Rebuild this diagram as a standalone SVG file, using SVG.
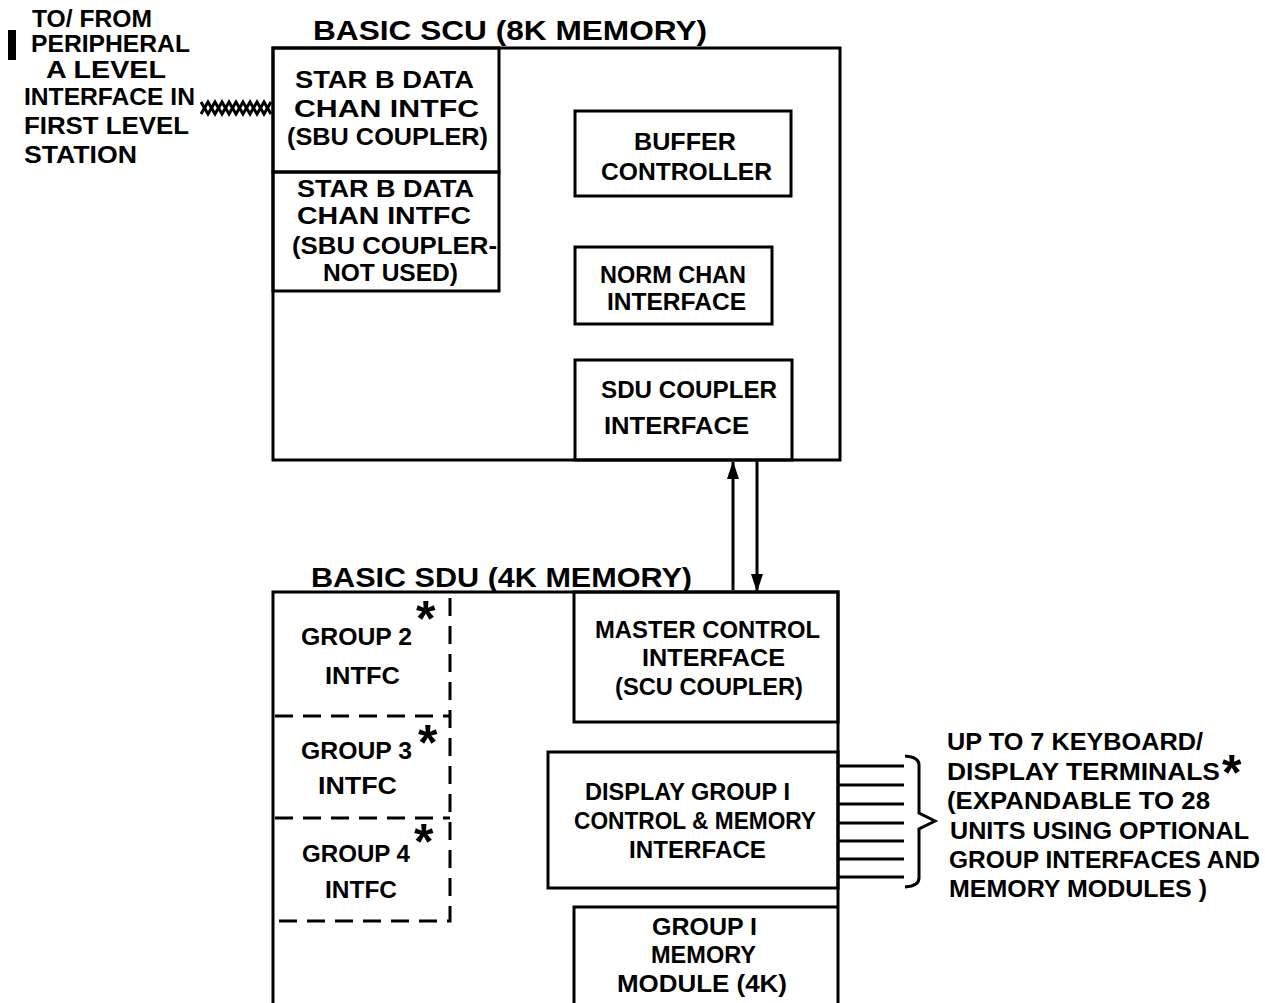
<svg xmlns="http://www.w3.org/2000/svg" width="1265" height="1003" viewBox="0 0 1265 1003">
<defs>
<style>
.t{font-family:"Liberation Sans",Arial,sans-serif;font-size:23px;font-weight:bold;fill:#000}
.h{font-family:"Liberation Sans",Arial,sans-serif;font-size:28px;font-weight:bold;fill:#000}
.ast{font-family:"Liberation Sans",Arial,sans-serif;font-size:50px;font-weight:bold;fill:#000}
.box{fill:none;stroke:#000;stroke-width:3}
.dash{fill:none;stroke:#000;stroke-width:3;stroke-dasharray:18 10}
.ln{fill:none;stroke:#000;stroke-width:3}
</style>
<marker id="arr" viewBox="0 0 18 12" refX="17" refY="6" markerWidth="18" markerHeight="12" markerUnits="userSpaceOnUse" orient="auto">
<path d="M0,0 L18,6 L0,12 Z" fill="#000"/>
</marker>
</defs>
<rect width="1265" height="1003" fill="#fff"/>

<g id="peripheral-label">
<rect x="8" y="30" width="8" height="30" fill="#000"/>
<text class="t" x="32" y="27" textLength="120" lengthAdjust="spacingAndGlyphs">TO/ FROM</text>
<text class="t" x="31" y="52" textLength="159" lengthAdjust="spacingAndGlyphs">PERIPHERAL</text>
<text class="t" x="46" y="78" textLength="120" lengthAdjust="spacingAndGlyphs">A LEVEL</text>
<text class="t" x="24" y="105" textLength="171" lengthAdjust="spacingAndGlyphs">INTERFACE IN</text>
<text class="t" x="24" y="134" textLength="165" lengthAdjust="spacingAndGlyphs">FIRST LEVEL</text>
<text class="t" x="24" y="163" textLength="113" lengthAdjust="spacingAndGlyphs">STATION</text>
</g>

<g id="scu">
<text class="h" x="313" y="40" textLength="394" lengthAdjust="spacingAndGlyphs">BASIC SCU (8K MEMORY)</text>
<rect class="box" x="273" y="48" width="567" height="412"/>
</g>

<g id="starb1">
<rect class="box" x="273" y="48" width="226" height="124"/>
<text class="t" x="295" y="88" textLength="179" lengthAdjust="spacingAndGlyphs">STAR  B  DATA</text>
<text class="t" x="294" y="117" textLength="185" lengthAdjust="spacingAndGlyphs">CHAN  INTFC</text>
<text class="t" x="287" y="145" textLength="201" lengthAdjust="spacingAndGlyphs">(SBU COUPLER)</text>
</g>

<g id="starb2">
<rect class="box" x="273" y="172" width="226" height="119"/>
<text class="t" x="297" y="197" textLength="177" lengthAdjust="spacingAndGlyphs">STAR  B  DATA</text>
<text class="t" x="297" y="224" textLength="174" lengthAdjust="spacingAndGlyphs">CHAN  INTFC</text>
<text class="t" x="292" y="254" textLength="205" lengthAdjust="spacingAndGlyphs">(SBU COUPLER-</text>
<text class="t" x="323" y="281" textLength="135" lengthAdjust="spacingAndGlyphs">NOT USED)</text>
</g>

<g id="buffer">
<rect class="box" x="575" y="111" width="216" height="85"/>
<text class="t" x="634" y="150" textLength="102" lengthAdjust="spacingAndGlyphs">BUFFER</text>
<text class="t" x="601" y="180" textLength="171" lengthAdjust="spacingAndGlyphs">CONTROLLER</text>
</g>

<g id="normchan">
<rect class="box" x="575" y="247" width="197" height="77"/>
<text class="t" x="600" y="283" textLength="146" lengthAdjust="spacingAndGlyphs">NORM CHAN</text>
<text class="t" x="607" y="310" textLength="139" lengthAdjust="spacingAndGlyphs">INTERFACE</text>
</g>

<g id="sducoupler">
<rect class="box" x="575" y="360" width="217" height="100"/>
<text class="t" x="601" y="398" textLength="176" lengthAdjust="spacingAndGlyphs">SDU COUPLER</text>
<text class="t" x="604" y="434" textLength="145" lengthAdjust="spacingAndGlyphs">INTERFACE</text>
</g>

<g id="sdu">
<text class="h" x="311" y="587" textLength="381" lengthAdjust="spacingAndGlyphs">BASIC SDU (4K MEMORY)</text>
<path class="box" d="M273,1010 L273,592 L838,592 L838,1010"/>
</g>

<g id="group2">
<text class="t" x="301" y="645" textLength="111" lengthAdjust="spacingAndGlyphs">GROUP 2</text>
<text class="t" x="325" y="684" textLength="75" lengthAdjust="spacingAndGlyphs">INTFC</text>
<text class="ast" x="416" y="636">*</text>
</g>
<g id="group3">
<text class="t" x="301" y="759" textLength="111" lengthAdjust="spacingAndGlyphs">GROUP 3</text>
<text class="t" x="318" y="794" textLength="79" lengthAdjust="spacingAndGlyphs">INTFC</text>
<text class="ast" x="418" y="760">*</text>
</g>
<g id="group4">
<text class="t" x="302" y="862" textLength="108" lengthAdjust="spacingAndGlyphs">GROUP 4</text>
<text class="t" x="325" y="898" textLength="72" lengthAdjust="spacingAndGlyphs">INTFC</text>
<text class="ast" x="414" y="859">*</text>
</g>
<g id="group-dashes">
<path class="dash" d="M450,598 L450,921 L273,921"/>
<path class="dash" d="M275,716 L450,716"/>
<path class="dash" d="M275,818 L450,818"/>
</g>

<g id="master">
<rect class="box" x="574" y="592" width="264" height="130"/>
<text class="t" x="595" y="638" textLength="225" lengthAdjust="spacingAndGlyphs">MASTER CONTROL</text>
<text class="t" x="642" y="666" textLength="143" lengthAdjust="spacingAndGlyphs">INTERFACE</text>
<text class="t" x="615" y="695" textLength="188" lengthAdjust="spacingAndGlyphs">(SCU COUPLER)</text>
</g>

<g id="display">
<rect class="box" x="548" y="752" width="290" height="136"/>
<text class="t" x="585" y="800" textLength="205" lengthAdjust="spacingAndGlyphs">DISPLAY GROUP I</text>
<text class="t" x="574" y="829" textLength="242" lengthAdjust="spacingAndGlyphs">CONTROL &amp; MEMORY</text>
<text class="t" x="629" y="858" textLength="137" lengthAdjust="spacingAndGlyphs">INTERFACE</text>
</g>

<g id="memmodule">
<path class="box" d="M574,1010 L574,907 L838,907"/>
<text class="t" x="652" y="935" textLength="105" lengthAdjust="spacingAndGlyphs">GROUP I</text>
<text class="t" x="651" y="963" textLength="105" lengthAdjust="spacingAndGlyphs">MEMORY</text>
<text class="t" x="617" y="992" textLength="170" lengthAdjust="spacingAndGlyphs">MODULE (4K)</text>
</g>

<g id="terminals-label">
<text class="t" x="947" y="750" textLength="256" lengthAdjust="spacingAndGlyphs">UP TO 7 KEYBOARD/</text>
<text class="t" x="947" y="780" textLength="273" lengthAdjust="spacingAndGlyphs">DISPLAY TERMINALS</text>
<text class="ast" x="1222" y="790">*</text>
<text class="t" x="947" y="809" textLength="263" lengthAdjust="spacingAndGlyphs">(EXPANDABLE TO 28</text>
<text class="t" x="950" y="839" textLength="299" lengthAdjust="spacingAndGlyphs">UNITS USING OPTIONAL</text>
<text class="t" x="949" y="868" textLength="311" lengthAdjust="spacingAndGlyphs">GROUP INTERFACES AND</text>
<text class="t" x="949" y="897" textLength="258" lengthAdjust="spacingAndGlyphs">MEMORY MODULES )</text>
</g>

<g id="connectors">
<g id="cable">
<path class="ln" stroke-width="3.5" d="M201,102 L208,114 L215,102 L222,114 L229,102 L236,114 L243,102 L250,114 L257,102 L264,114 L271,102"/>
<path class="ln" stroke-width="3.5" d="M201,114 L208,102 L215,114 L222,102 L229,114 L236,102 L243,114 L250,102 L257,114 L264,102 L271,114"/>
</g>
<line class="ln" x1="733" y1="590" x2="733" y2="462" marker-end="url(#arr)"/>
<line class="ln" x1="757" y1="461" x2="757" y2="591" marker-end="url(#arr)"/>
<line class="ln" x1="838" y1="766" x2="904" y2="766"/>
<line class="ln" x1="838" y1="785" x2="904" y2="785"/>
<line class="ln" x1="838" y1="804" x2="904" y2="804"/>
<line class="ln" x1="838" y1="823" x2="904" y2="823"/>
<line class="ln" x1="838" y1="841" x2="904" y2="841"/>
<line class="ln" x1="838" y1="859" x2="904" y2="859"/>
<line class="ln" x1="838" y1="877" x2="904" y2="877"/>
<path class="ln" stroke-width="2.5" d="M905,756 Q919,757 919,765 L919,813 L935,821 L919,829 L919,878 Q919,886 905,887"/>
</g>
</svg>
